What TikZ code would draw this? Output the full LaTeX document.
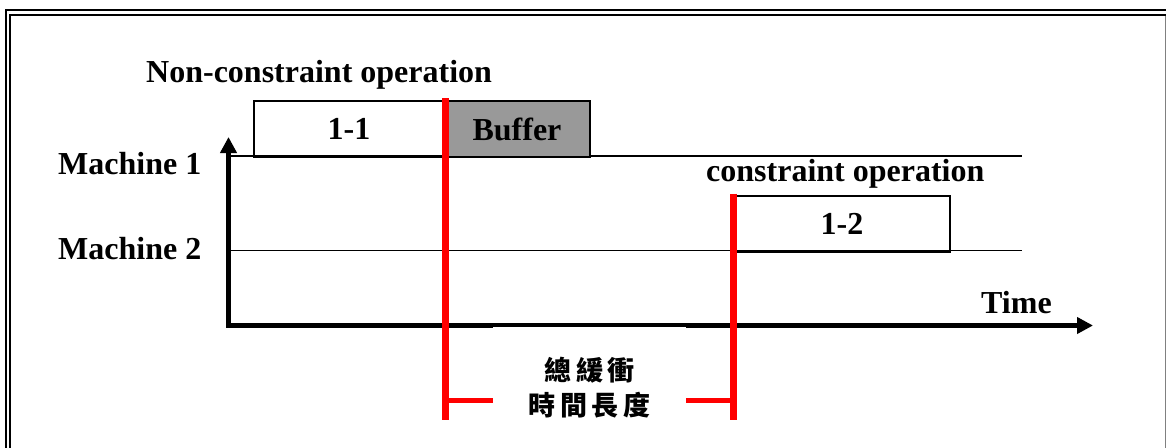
\documentclass[tikz,border=0pt]{standalone}
\usepackage{fontspec}
\setmainfont{Liberation Serif}
\newfontfamily\cjk{Noto Sans CJK TC}
\usetikzlibrary{arrows.meta,calc}
\begin{document}
\begin{tikzpicture}[x=1pt,y=-1pt,
  lbl/.style={font=\fontsize{32}{38}\selectfont\bfseries,inner sep=0pt},
  opbox/.style={draw,line width=2pt,minimum height=56pt,inner sep=0pt,anchor=north west,font=\fontsize{32}{38}\selectfont\bfseries},
  axis/.style={line width=4.5pt,-{Triangle[length=16pt,width=16pt]}},
  mline/.style={line width=1.8pt},
  redline/.style={red,line width=7pt},
  redtick/.style={red,line width=5.5pt}]
\useasboundingbox (0,0) rectangle (1166,447);
% frame
\draw[line width=2pt] (6,448) -- (6,10) -- (1167,10);
\draw[line width=2pt] (10,448) -- (10,14.5) -- (1167,14.5);
\draw[gray,line width=1pt] (1165,15.5) -- (1165,448);
% coordinates
\coordinate (o) at (228.5,325.5);
\coordinate (ytop) at (228.5,137);
\coordinate (xend) at (1093,325.5);
\coordinate (m1a) at (228.5,156);
\coordinate (m1b) at (1022,156);
\coordinate (m2a) at (228.5,250.5);
\coordinate (m2b) at (1022,250.5);
% machine lines
\draw[mline] (m1a) -- (m1b);
\draw[mline] (m2a) -- (m2b);
% axes
\draw[axis] ($(o)+(0,2.25)$) -- (ytop);
\draw[axis] ($(o)+(-2.25,0)$) -- (xend);
% boxes
\node[opbox,minimum width=190pt] (b11) at (253,100) {1-1};
\node[opbox,minimum width=146pt,fill={rgb,255:red,153;green,153;blue,153}] (buf) at (443,100) {Buffer};
\node[opbox,minimum width=216pt] (b12) at (733,194.5) {1-2};
% labels
\node[lbl,anchor=base west] (nc) at (146,82) {Non-constraint operation};
\node[lbl,anchor=base west] (co) at (706,181) {constraint operation};
\node[lbl,anchor=base west] (mc1) at (58,174) {Machine 1};
\node[lbl,anchor=base west] (mc2) at (58,259.5) {Machine 2};
\node[lbl,anchor=base west] (tm) at (981,313) {Time};
% chinese label box
\node[fill=white,minimum width=193pt,minimum height=122pt,inner sep=0pt,align=center,
  font=\cjk\bfseries\fontsize{27}{35}\selectfont] (cn) at (589.5,387.5)
  {總\hspace{5pt}緩\hspace{5pt}衝\\時\hspace{5pt}間\hspace{5pt}長\hspace{5pt}度};
% red lines
\coordinate (r1t) at (445,98);
\coordinate (r1b) at (445,420);
\coordinate (r2t) at (733.5,193.5);
\coordinate (r2b) at (733.5,420);
\coordinate (k1) at (445,400.5);
\coordinate (k2) at (733.5,400.5);
\draw[redline] (r1t) -- (r1b);
\draw[redline] (r2t) -- (r2b);
\draw[redtick] (k1) -- (k1 -| cn.west);
\draw[redtick] (k2) -- (k2 -| cn.east);
\end{tikzpicture}
\end{document}
